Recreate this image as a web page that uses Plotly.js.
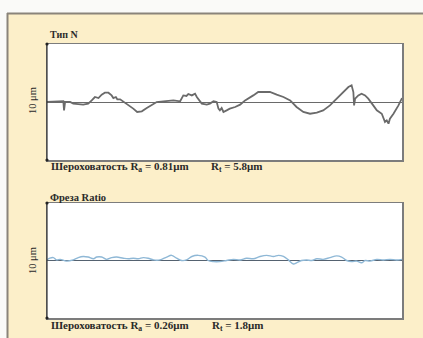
<!DOCTYPE html>
<html>
<head>
<meta charset="utf-8">
<script src="https://cdn.plot.ly/plotly-3.0.1.min.js"></script>
<style>html,body{margin:0;padding:0;background:#fafaf8;}#chart{width:423px;height:338px;}</style>
</head>
<body>
<div id="chart"></div>
<script>
// ---- data (position along profile in % of length, height in μm) ----
const topTitle = "Тип N";
const botTitle = "Фреза Ratio";
const yLabel = "10 μm";
const topNoteRa = "Шероховатость R<sub>a</sub> = 0.81μm";
const topNoteRt = "R<sub>t</sub> = 5.8μm";
const botNoteRa = "Шероховатость R<sub>a</sub> = 0.26μm";
const botNoteRt = "R<sub>t</sub> = 1.8μm";

const topX = [0,3.7,4.6,4.8,5.1,6.5,7.4,10.2,11.6,12.6,13.5,14.5,15.4,16.3,17.3,18.2,18.7,19.4,19.8,20.6,22.4,24.3,25.4,26.7,28.1,30.0,30.9,32.8,35.6,37.5,38.4,39.3,39.8,40.8,41.7,42.2,43.1,43.6,45.0,45.9,46.9,47.8,48.3,48.7,49.2,49.7,50.6,51.5,53.0,54.4,55.8,56.7,58.1,59.5,60.9,62.8,64.7,66.6,68.5,70.3,72.2,74.1,76.0,77.8,79.7,81.6,83.5,84.9,85.8,86.3,86.5,86.8,87.7,88.6,89.6,90.5,91.9,92.9,94.3,95.2,95.7,96.2,96.6,97.6,99.0,100];
const topY = [0,0.06,0.06,-0.72,0,0,-0.14,-0.23,-0.14,0.14,0.43,0.34,0.63,0.80,0.80,0.57,0.34,0.43,0.23,0.23,-0.14,-0.57,-0.86,-0.80,-0.52,-0.14,0,0.06,0.14,0.06,0.57,0.52,0.69,0.57,0.72,0.43,0.06,-0.14,-0.23,-0.14,0.06,0,-0.57,-0.72,-0.52,-0.86,-0.72,-0.57,-0.43,-0.23,0.14,0.29,0.57,0.86,0.86,0.86,0.63,0.43,0.14,-0.43,-0.86,-1.01,-0.92,-0.72,-0.29,0.29,0.86,1.29,1.44,0.86,-0.29,0.29,0.57,0.72,0.57,0.29,-0.29,-0.72,-1.01,-1.72,-1.58,-1.87,-1.44,-1.01,-0.29,0.34];

const botX = [0,0.8,1.8,2.7,3.7,5.5,7.4,8.8,10.2,11.6,13.1,14.0,15.4,16.8,18.2,19.6,21.5,22.9,24.3,25.7,27.1,28.5,30.0,31.8,33.7,35.1,36.5,37.9,39.3,40.8,42.6,44.5,45.4,46.9,48.7,50.6,52.5,54.4,56.2,58.1,60.0,61.9,63.8,65.2,66.6,68.0,69.4,70.3,71.7,73.1,74.6,76.0,77.8,79.7,81.6,83.0,84.4,85.8,87.2,88.6,89.6,91.0,92.9,94.7,96.6,98.5,100];
const botY = [0.05,0.2,0.25,0.05,0.1,-0.05,0.05,0.25,0.35,0.3,0.15,0.3,0.3,0.1,0.25,0.3,0.2,0.15,0.2,0.15,0.25,0.2,0.05,0.05,0.3,0.45,0.2,0,0.05,0.35,0.45,0.3,0,-0.1,-0.1,0,0.1,0.05,0.2,0.15,0.35,0.45,0.35,0.45,0.35,0.05,-0.3,-0.2,0,0.05,0,0.15,0.1,0.25,0.4,0.3,0,-0.1,-0.05,-0.2,0,-0.05,0.1,0.05,0.1,0.05,0.1];

// ---- layout helpers (pixel -> paper) ----
const W = 423, H = 338;
const px = x => x / W;
const py = y => 1 - y / H;
const serif = "Liberation Serif, Times New Roman, serif";

const traces = [
  {x: topX, y: topY, xaxis: 'x', yaxis: 'y', mode: 'lines', line: {color: '#6a6a6a', width: 1.8}, hoverinfo: 'skip'},
  {x: botX, y: botY, xaxis: 'x2', yaxis: 'y2', mode: 'lines', line: {color: '#8fb8d6', width: 1.4, shape: 'spline', smoothing: 1}, hoverinfo: 'skip'}
];

const axX = d => ({domain: [px(47), px(402)], range: [0, 100], showticklabels: false, ticks: '', showgrid: false, zeroline: false, showline: true, mirror: true, linecolor: '#7c7c7c', linewidth: 1.5, fixedrange: true, anchor: d});
const axY = (dom, zc) => ({domain: dom, range: [-5, 5], showticklabels: false, ticks: '', showgrid: false, zeroline: true, zerolinecolor: zc, zerolinewidth: 1, showline: true, mirror: true, linecolor: '#7c7c7c', linewidth: 1.5, fixedrange: true});

const dot = (x, y) => ({type: 'circle', xref: 'paper', yref: 'paper', x0: px(x - 1.6), x1: px(x + 1.6), y0: py(y + 1.6), y1: py(y - 1.6), fillcolor: '#222', line: {width: 0}});
const txt = (t, x, y, size, extra) => Object.assign({text: t, xref: 'paper', yref: 'paper', x: px(x), y: py(y), xanchor: 'left', yanchor: 'middle', showarrow: false, font: {family: serif, size: size, color: '#2a2a2a'}}, extra || {});

const layout = {
  width: W, height: H,
  margin: {l: 0, r: 0, t: 0, b: 0},
  paper_bgcolor: '#fcefc9',
  plot_bgcolor: '#ffffff',
  showlegend: false,
  xaxis: axX('y'),
  yaxis: Object.assign(axY([py(160), py(44)], '#6a6a6a'), {anchor: 'x'}),
  xaxis2: axX('y2'),
  yaxis2: Object.assign(axY([py(318), py(203)], '#556270'), {anchor: 'x2'}),
  shapes: [
    {type: 'rect', xref: 'paper', yref: 'paper', x0: 0, x1: 1, y0: py(13), y1: 1, fillcolor: '#fafaf8', line: {width: 0}},
    {type: 'rect', xref: 'paper', yref: 'paper', x0: 0, x1: px(7), y0: 0, y1: 1, fillcolor: '#fafaf8', line: {width: 0}},
    {type: 'line', xref: 'paper', yref: 'paper', x0: px(7), x1: 1, y0: py(13.5), y1: py(13.5), line: {color: '#8a847a', width: 2}},
    {type: 'line', xref: 'paper', yref: 'paper', x0: px(7.5), x1: px(7.5), y0: 0, y1: py(13), line: {color: '#8a847a', width: 2}},
    {type: 'line', xref: 'paper', yref: 'paper', x0: px(47), x1: px(47), y0: py(160), y1: py(44), line: {color: '#333', width: 1.2}},
    {type: 'line', xref: 'paper', yref: 'paper', x0: px(47), x1: px(47), y0: py(318), y1: py(203), line: {color: '#333', width: 1.2}},
    dot(47, 44), dot(47, 160), dot(47, 203), dot(47, 318)
  ],
  annotations: [
    txt('<b>' + topTitle + '</b>', 48, 35, 10),
    txt('<b>' + botTitle + '</b>', 48, 197, 10.5),
    txt(yLabel, 32, 101, 10.5, {xanchor: 'center', textangle: -90}),
    txt(yLabel, 32, 261, 10.5, {xanchor: 'center', textangle: -90}),
    txt('<b>' + topNoteRa + '</b>', 49, 167, 11),
    txt('<b>' + topNoteRt + '</b>', 209, 167, 11),
    txt('<b>' + botNoteRa + '</b>', 49, 326, 11),
    txt('<b>' + botNoteRt + '</b>', 210, 326, 11)
  ]
};

Plotly.newPlot('chart', traces, layout, {staticPlot: true, displayModeBar: false});
</script>
</body>
</html>
